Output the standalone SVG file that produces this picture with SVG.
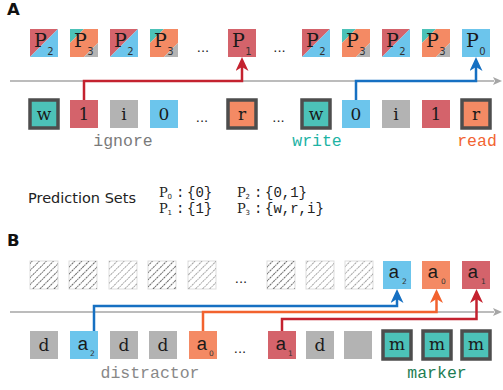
<svg xmlns="http://www.w3.org/2000/svg" width="503" height="390" viewBox="0 0 503 390">
<style>
.tok{font-family:"DejaVu Serif","Liberation Serif",serif;font-size:17px;fill:#1a1a1a;text-anchor:middle}
.pt{font-family:"DejaVu Serif","Liberation Serif",serif;font-size:19px;fill:#1a1a1a;text-anchor:middle}
.at{font-family:"Liberation Mono","DejaVu Sans Mono",monospace;font-size:19px;fill:#1a1a1a;text-anchor:middle}
.sub{font-family:"DejaVu Sans",sans-serif;font-size:10px;fill:#333;text-anchor:middle}
.subs{font-family:"DejaVu Sans",sans-serif;font-size:7.5px;fill:#333;text-anchor:middle}
.red{fill:#D4636B}.blue{fill:#6CC5EC}.teal{fill:#4CC2B8}.orange{fill:#F48A64}.gray{fill:#B3B3B3}
.mark{stroke:#4D4D4D;stroke-width:3.5}
.axis{stroke:#A6A6A6;stroke-width:1.5;fill:none}
.conn{fill:none;stroke-width:2.5;stroke-linejoin:miter}
.dots{font-family:"DejaVu Sans",sans-serif;font-size:13px;fill:#222;text-anchor:middle}
.lbl{font-family:"Liberation Mono","DejaVu Sans Mono",monospace;font-size:16.5px;text-anchor:middle}
.ps{font-family:"Liberation Mono","DejaVu Sans Mono",monospace;font-size:14px;fill:#222}
.psp{font-family:"DejaVu Serif","Liberation Serif",serif;font-size:13px;fill:#222}
.pss{font-family:"DejaVu Sans",sans-serif;font-size:7px;fill:#222}
.hl{fill:#fff;stroke:#DDDDDD;stroke-width:1}
.panel{font-family:"DejaVu Sans","Liberation Sans",sans-serif;font-weight:bold;font-size:16.5px;fill:#111}
</style>
<defs>
<g id="t2"><polygon points="0,0 28,0 0,28" class="red"/><polygon points="28,0 28,28 0,28" class="blue"/></g>
<g id="t3"><polygon points="0,0 14,0 0,14" class="teal"/><polygon points="14,0 28,0 28,14 14,28 0,28 0,14" class="orange"/><polygon points="28,14 28,28 14,28" class="gray"/></g>
<pattern id="hd" width="5" height="5" patternUnits="userSpaceOnUse" patternTransform="rotate(45)"><line x1="2.5" y1="0" x2="2.5" y2="5" stroke="#444" stroke-width="0.8" stroke-dasharray="1.3 0.7"/></pattern>
<pattern id="hl" width="5" height="5" patternUnits="userSpaceOnUse" patternTransform="rotate(45)"><line x1="2.5" y1="0" x2="2.5" y2="5" stroke="#8a8a8a" stroke-width="0.8" stroke-dasharray="1.3 0.7"/></pattern>
<marker id="ag" viewBox="0 0 9 8" refX="1" refY="4" markerWidth="9" markerHeight="8" markerUnits="userSpaceOnUse" orient="auto"><path d="M0,0 L9,4 L0,8 L2,4 z" fill="#A6A6A6"/></marker>
<marker id="ar" viewBox="0 0 14 13" refX="4" refY="6.5" markerWidth="14" markerHeight="13" markerUnits="userSpaceOnUse" orient="auto"><path d="M0,0 L14,6.5 L0,13 L4,6.5 z" fill="#C4222F"/></marker>
<marker id="ab" viewBox="0 0 14 13" refX="4" refY="6.5" markerWidth="14" markerHeight="13" markerUnits="userSpaceOnUse" orient="auto"><path d="M0,0 L14,6.5 L0,13 L4,6.5 z" fill="#1670C2"/></marker>
<marker id="ao" viewBox="0 0 14 13" refX="4" refY="6.5" markerWidth="14" markerHeight="13" markerUnits="userSpaceOnUse" orient="auto"><path d="M0,0 L14,6.5 L0,13 L4,6.5 z" fill="#F2622E"/></marker>
</defs>
<rect width="503" height="390" fill="#fff"/>

<text class="panel" x="7" y="15">A</text>
<text class="panel" x="7" y="246">B</text>

<!-- axes -->
<g id="axes">
<path class="axis" d="M10,81 H494" marker-end="url(#ag)"/>
<path class="axis" d="M10,312 H494" marker-end="url(#ag)"/>
</g>

<!-- Panel A: predictions -->
<g id="a-p1"><use href="#t2" x="30" y="29"/><text class="pt" x="40.5" y="47">P</text><text class="sub" x="50.5" y="55">2</text></g>
<g id="a-p2"><use href="#t3" x="70" y="29"/><text class="pt" x="80.5" y="47">P</text><text class="sub" x="90.5" y="55">3</text></g>
<g id="a-p3"><use href="#t2" x="110" y="29"/><text class="pt" x="120.5" y="47">P</text><text class="sub" x="130.5" y="55">2</text></g>
<g id="a-p4"><use href="#t3" x="150" y="29"/><text class="pt" x="160.5" y="47">P</text><text class="sub" x="170.5" y="55">3</text></g>
<text class="dots" x="203" y="52">...</text>
<g id="a-p5"><rect x="228" y="29" width="28" height="28" class="red"/><text class="pt" x="238.5" y="47">P</text><text class="sub" x="248.5" y="55">1</text></g>
<text class="dots" x="279.5" y="52">...</text>
<g id="a-p6"><use href="#t2" x="302" y="29"/><text class="pt" x="312.5" y="47">P</text><text class="sub" x="322.5" y="55">2</text></g>
<g id="a-p7"><use href="#t3" x="342" y="29"/><text class="pt" x="352.5" y="47">P</text><text class="sub" x="362.5" y="55">3</text></g>
<g id="a-p8"><use href="#t2" x="382" y="29"/><text class="pt" x="392.5" y="47">P</text><text class="sub" x="402.5" y="55">2</text></g>
<g id="a-p9"><use href="#t3" x="422" y="29"/><text class="pt" x="432.5" y="47">P</text><text class="sub" x="442.5" y="55">3</text></g>
<g id="a-p10"><rect x="462" y="29" width="28" height="28" class="blue"/><text class="pt" x="472.5" y="47">P</text><text class="sub" x="482.5" y="55">0</text></g>

<!-- Panel A: inputs -->
<g id="a-i1"><rect x="30" y="100" width="28" height="28" class="teal mark"/><text class="tok" x="44" y="120">w</text></g>
<g id="a-i2"><rect x="70" y="100" width="28" height="28" class="red"/><text class="tok" x="84" y="120">1</text></g>
<g id="a-i3"><rect x="110" y="100" width="28" height="28" class="gray"/><text class="tok" x="124" y="120">i</text></g>
<g id="a-i4"><rect x="150" y="100" width="28" height="28" class="blue"/><text class="tok" x="164" y="120">0</text></g>
<text class="dots" x="202" y="122">...</text>
<g id="a-i5"><rect x="228" y="100" width="28" height="28" class="orange mark"/><text class="tok" x="242" y="120">r</text></g>
<text class="dots" x="278.5" y="122">...</text>
<g id="a-i6"><rect x="302" y="100" width="28" height="28" class="teal mark"/><text class="tok" x="316" y="120">w</text></g>
<g id="a-i7"><rect x="342" y="100" width="28" height="28" class="blue"/><text class="tok" x="356" y="120">0</text></g>
<g id="a-i8"><rect x="382" y="100" width="28" height="28" class="gray"/><text class="tok" x="396" y="120">i</text></g>
<g id="a-i9"><rect x="422" y="100" width="28" height="28" class="red"/><text class="tok" x="436" y="120">1</text></g>
<g id="a-i10"><rect x="462" y="100" width="28" height="28" class="orange mark"/><text class="tok" x="476" y="120">r</text></g>

<text class="lbl" x="123" y="146" fill="#7a7a7a">ignore</text>
<text class="lbl" x="317" y="146" fill="#1DB3A4">write</text>
<text class="lbl" x="477" y="146" fill="#F26430">read</text>

<!-- Prediction sets -->
<g id="pred-sets">
<text x="28" y="203" font-family="DejaVu Sans, Liberation Sans, sans-serif" font-size="14.5" fill="#222">Prediction Sets</text>
<text class="psp" x="159" y="197">P</text><text class="pss" x="167.5" y="199">0</text><text class="ps" x="176" y="197">:</text><text class="ps" x="187" y="197">{0}</text>
<text class="psp" x="237" y="197">P</text><text class="pss" x="245.5" y="199">2</text><text class="ps" x="254" y="197">:</text><text class="ps" x="265" y="197">{0,1}</text>
<text class="psp" x="159" y="213">P</text><text class="pss" x="167.5" y="215">1</text><text class="ps" x="176" y="213">:</text><text class="ps" x="187" y="213">{1}</text>
<text class="psp" x="237" y="213">P</text><text class="pss" x="245.5" y="215">3</text><text class="ps" x="254" y="213">:</text><text class="ps" x="265" y="213">{w,r,i}</text>
</g>

<!-- Panel B: outputs -->
<g id="b-o1"><rect x="30" y="261" width="28" height="28" class="hl"/><rect x="30" y="261" width="28" height="28" fill="url(#hd)"/></g>
<g id="b-o2"><rect x="69" y="261" width="28" height="28" class="hl"/><rect x="69" y="261" width="28" height="28" fill="url(#hd)"/></g>
<g id="b-o3"><rect x="109" y="261" width="28" height="28" class="hl"/><rect x="109" y="261" width="28" height="28" fill="url(#hl)"/></g>
<g id="b-o4"><rect x="148" y="261" width="28" height="28" class="hl"/><rect x="148" y="261" width="28" height="28" fill="url(#hd)"/></g>
<g id="b-o5"><rect x="188" y="261" width="28" height="28" class="hl"/><rect x="188" y="261" width="28" height="28" fill="url(#hl)"/></g>
<text class="dots" x="241" y="283">...</text>
<g id="b-o6"><rect x="267" y="261" width="28" height="28" class="hl"/><rect x="267" y="261" width="28" height="28" fill="url(#hd)"/></g>
<g id="b-o7"><rect x="306" y="261" width="28" height="28" class="hl"/><rect x="306" y="261" width="28" height="28" fill="url(#hl)"/></g>
<g id="b-o8"><rect x="345" y="261" width="28" height="28" class="hl"/><rect x="345" y="261" width="28" height="28" fill="url(#hl)"/></g>
<g id="b-o9"><rect x="383" y="261" width="28" height="28" class="blue"/><text class="at" x="394" y="278">a</text><text class="subs" x="404.5" y="284">2</text></g>
<g id="b-o10"><rect x="422" y="261" width="28" height="28" class="orange"/><text class="at" x="433" y="278">a</text><text class="subs" x="443.5" y="284">0</text></g>
<g id="b-o11"><rect x="462" y="261" width="28" height="28" class="red"/><text class="at" x="473" y="278">a</text><text class="subs" x="483.5" y="284">1</text></g>

<!-- Panel B: inputs -->
<g id="b-i1"><rect x="30" y="331" width="28" height="28" class="gray"/><text class="tok" x="44" y="351">d</text></g>
<g id="b-i2"><rect x="70" y="331" width="28" height="28" class="blue"/><text class="at" x="83" y="350">a</text><text class="subs" x="92.5" y="356">2</text></g>
<g id="b-i3"><rect x="110" y="331" width="28" height="28" class="gray"/><text class="tok" x="124" y="351">d</text></g>
<g id="b-i4"><rect x="149" y="331" width="28" height="28" class="gray"/><text class="tok" x="163" y="351">d</text></g>
<g id="b-i5"><rect x="189" y="331" width="28" height="28" class="orange"/><text class="at" x="202" y="350">a</text><text class="subs" x="211.5" y="356">0</text></g>
<text class="dots" x="240" y="353">...</text>
<g id="b-i6"><rect x="268" y="331" width="28" height="28" class="red"/><text class="at" x="281" y="350">a</text><text class="subs" x="290.5" y="356">1</text></g>
<g id="b-i7"><rect x="306" y="331" width="28" height="28" class="gray"/><text class="tok" x="320" y="351">d</text></g>
<g id="b-i8"><rect x="344" y="331" width="28" height="28" class="gray"/></g>
<g id="b-i9"><rect x="383" y="331" width="28" height="28" class="teal mark"/><text class="tok" x="397" y="350">m</text></g>
<g id="b-i10"><rect x="423" y="331" width="28" height="28" class="teal mark"/><text class="tok" x="437" y="350">m</text></g>
<g id="b-i11"><rect x="462" y="331" width="28" height="28" class="teal mark"/><text class="tok" x="476" y="350">m</text></g>

<text class="lbl" x="150" y="378" fill="#888">distractor</text>
<text class="lbl" x="437" y="378" fill="#1E7D52">marker</text>

<!-- connectors -->
<g id="connectors">
<path class="conn" stroke="#C4222F" d="M84,100 V81 H242 V67" marker-end="url(#ar)"/>
<path class="conn" stroke="#1670C2" d="M356,100 V81 H476 V67" marker-end="url(#ab)"/>
<path class="conn" stroke="#1670C2" d="M94,331 V306 H397 V299" marker-end="url(#ab)"/>
<path class="conn" stroke="#F2622E" d="M203,331 V312 H436.5 V299" marker-end="url(#ao)"/>
<path class="conn" stroke="#C4222F" d="M282,331 V319 H476.5 V299" marker-end="url(#ar)"/>
</g>
</svg>
